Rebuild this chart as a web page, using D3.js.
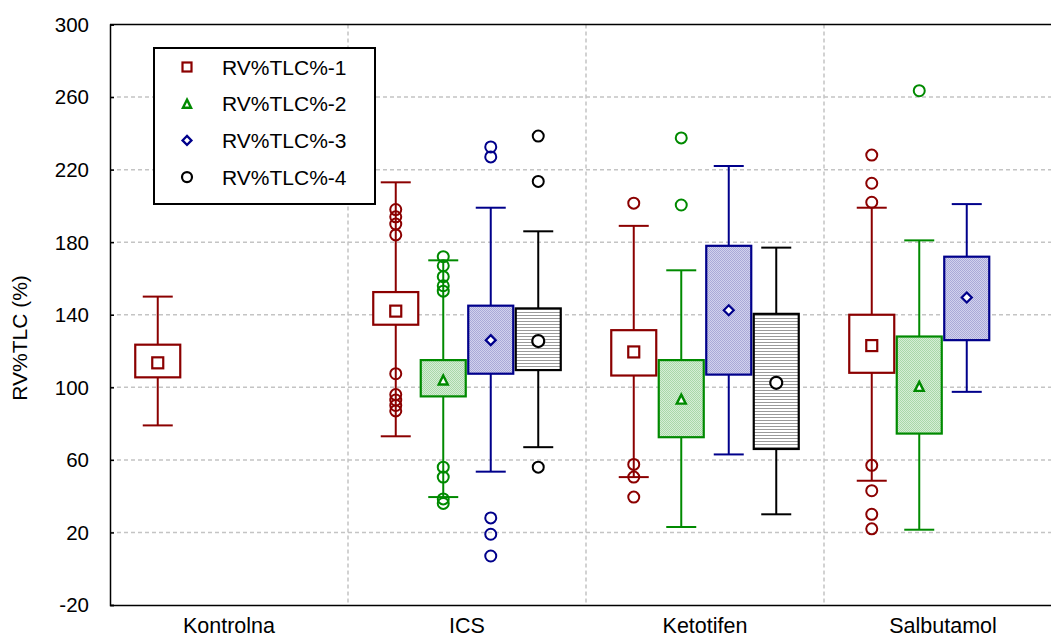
<!DOCTYPE html>
<html>
<head>
<meta charset="utf-8">
<script src="https://cdn.jsdelivr.net/npm/d3@7"></script>
<style>
  body { margin: 0; background: #fff; }
  text { font-family: "Liberation Sans", Arial, sans-serif; fill: #000; }
</style>
</head>
<body>
<div id="chart"></div>
<script>
// categories and series
var categories = ["Kontrolna", "ICS", "Ketotifen", "Salbutamol"];
var seriesNames = ["RV%TLC%-1", "RV%TLC%-2", "RV%TLC%-3", "RV%TLC%-4"];
var yTicks = [-20, 20, 60, 100, 140, 180, 220, 260, 300];

// box stats per series, one entry per category (null = no box)
var whiskerLow = [
  [79, 73, 50.5, 48.5],
  [null, 39.5, 23, 21.5],
  [null, 53.5, 63, 97.5],
  [null, 67, 30, null]
];
var lowerQ = [
  [105.5, 134.5, 106.5, 108],
  [null, 95, 72.5, 74.5],
  [null, 107.5, 107, 126],
  [null, 109.5, 66, null]
];
var middle = [
  [113.5, 142, 119.5, 123],
  [null, 104, 93.5, 100.5],
  [null, 126, 142.5, 149.5],
  [null, 125.5, 102.5, null]
];
var upperQ = [
  [123.5, 152.5, 131.5, 140],
  [null, 115, 115, 128],
  [null, 145, 178, 172],
  [null, 143.5, 140.5, null]
];
var whiskerHigh = [
  [150, 213, 189, 199],
  [null, 170, 164.5, 181],
  [null, 199, 222, 201],
  [null, 186, 177, null]
];
var outliers = [
  [[], [198, 194, 190, 184, 107.5, 96, 93, 90, 87], [201.5, 57.5, 50.5, 39.5], [228, 212.5, 202, 57, 43, 30, 22]],
  [[], [172, 167, 161, 156, 153, 56, 50.5, 38.5, 36], [237.5, 200.5], [263.5]],
  [[], [232.5, 227, 28, 19, 7], [], []],
  [[], [238.5, 213.5, 56], [], []]
];

var strokeColors = ["#8b0000", "#008a00", "#00008b", "#000000"];
var fills = ["#ffffff", "url(#patGreen)", "url(#patBlue)", "url(#patLines)"];

var width = 1051, height = 637,
    plotLeft = 110, plotTop = 24.5, plotBottom = 605, catWidth = 238;

var svg = d3.select('#chart').append('svg')
  .attr('width', width)
  .attr('height', height);
var defs = svg.append('defs');

// fill patterns
var pg = defs.append('pattern').attr('id', 'patGreen')
  .attr('width', 2).attr('height', 2).attr('patternUnits', 'userSpaceOnUse');
pg.append('rect').attr('width', 2).attr('height', 2).attr('fill', '#d6eed6');
pg.append('rect').attr('width', 1).attr('height', 1).attr('fill', '#a9d8a9');
pg.append('rect').attr('x', 1).attr('y', 1).attr('width', 1).attr('height', 1).attr('fill', '#a9d8a9');

var pb = defs.append('pattern').attr('id', 'patBlue')
  .attr('width', 2).attr('height', 2).attr('patternUnits', 'userSpaceOnUse');
pb.append('rect').attr('width', 2).attr('height', 2).attr('fill', '#d2d2ee');
pb.append('rect').attr('width', 1).attr('height', 1).attr('fill', '#aaaad8');
pb.append('rect').attr('x', 1).attr('y', 1).attr('width', 1).attr('height', 1).attr('fill', '#aaaad8');

var pl = defs.append('pattern').attr('id', 'patLines')
  .attr('width', 3).attr('height', 3).attr('patternUnits', 'userSpaceOnUse');
pl.append('rect').attr('width', 3).attr('height', 3).attr('fill', '#ffffff');
pl.append('rect').attr('width', 3).attr('height', 1).attr('fill', '#9a9a9a');

var x = d3.scaleBand()
  .domain(categories)
  .range([plotLeft, plotLeft + catWidth * categories.length]);
var inner = d3.scaleBand()
  .domain(seriesNames)
  .range([-95, 95]);
var y = d3.scaleLinear()
  .domain([-20, 300])
  .range([plotBottom, plotTop]);

var boxW = 45, capW = 30;

// grid
var grid = svg.append('g').attr('class', 'grid')
  .attr('stroke', '#c4c4c4')
  .attr('stroke-width', 1.5)
  .attr('stroke-dasharray', '4,3');
grid.selectAll('line.h')
  .data(yTicks.slice(1, -1))
  .enter().append('line')
    .attr('x1', plotLeft).attr('x2', width)
    .attr('y1', function (d) { return y(d); })
    .attr('y2', function (d) { return y(d); });
grid.selectAll('line.v')
  .data(categories.slice(1))
  .enter().append('line')
    .attr('x1', function (d) { return x(d); })
    .attr('x2', function (d) { return x(d); })
    .attr('y1', plotTop).attr('y2', plotBottom);

// axes
var yAxis = svg.append('g')
  .attr('transform', 'translate(' + plotLeft + ',0)')
  .call(d3.axisRight(y).tickValues(yTicks).tickSize(4).tickFormat(''));
yAxis.select('.domain').attr('stroke-width', 1.5);
yAxis.selectAll('.tick line').attr('stroke-width', 1.5);

svg.append('g').selectAll('text')
  .data(yTicks)
  .enter().append('text')
    .attr('x', 89)
    .attr('y', function (d) { return y(d); })
    .attr('dy', '0.36em')
    .attr('text-anchor', 'end')
    .style('font-size', '20.5px')
    .text(function (d) { return d; });

var xAxis = svg.append('g')
  .attr('transform', 'translate(0,' + plotBottom + ')')
  .call(d3.axisBottom(x).tickSize(0).tickPadding(13));
xAxis.select('.domain').attr('stroke-width', 1.5);
xAxis.selectAll('text')
  .style('font-size', '21.5px')
  .style('font-family', '"Liberation Sans", Arial, sans-serif');

svg.append('line')
  .attr('x1', plotLeft).attr('x2', width)
  .attr('y1', plotTop).attr('y2', plotTop)
  .attr('stroke', '#000').attr('stroke-width', 1.5);

svg.append('text')
  .attr('transform', 'translate(27,338) rotate(-90)')
  .attr('text-anchor', 'middle')
  .style('font-size', '21px')
  .text('RV%TLC (%)');

// marker shapes
function drawMarker(g, s, cx, cy, size) {
  var col = strokeColors[s];
  if (s === 0) {
    g.append('rect')
      .attr('x', cx - size / 2).attr('y', cy - size / 2)
      .attr('width', size).attr('height', size)
      .attr('fill', '#fff').attr('stroke', col).attr('stroke-width', 2.2);
  } else if (s === 1) {
    var h = size * 0.9;
    g.append('path')
      .attr('d', 'M' + cx + ',' + (cy - h / 2) + 'L' + (cx + h / 2) + ',' + (cy + h / 2) +
        'L' + (cx - h / 2) + ',' + (cy + h / 2) + 'Z')
      .attr('fill', '#fff').attr('stroke', col).attr('stroke-width', 2.4);
  } else if (s === 2) {
    var r = size * 0.5;
    g.append('path')
      .attr('d', 'M' + cx + ',' + (cy - r) + 'L' + (cx + r) + ',' + cy +
        'L' + cx + ',' + (cy + r) + 'L' + (cx - r) + ',' + cy + 'Z')
      .attr('fill', '#fff').attr('stroke', col).attr('stroke-width', 2.2);
  } else {
    g.append('circle')
      .attr('cx', cx).attr('cy', cy).attr('r', size * 0.5)
      .attr('fill', '#fff').attr('stroke', col).attr('stroke-width', 2.2);
  }
}

// boxes
var plot = svg.append('g').attr('class', 'boxes');
seriesNames.forEach(function (name, s) {
  var col = strokeColors[s];
  categories.forEach(function (cat, c) {
    if (middle[s][c] === null) return;
    var cx = x(cat) + x.bandwidth() / 2 + inner(name) + inner.bandwidth() / 2;
    var g = plot.append('g');

    g.append('line')
      .attr('x1', cx).attr('x2', cx)
      .attr('y1', y(whiskerLow[s][c])).attr('y2', y(whiskerHigh[s][c]))
      .attr('stroke', col).attr('stroke-width', 2);
    [whiskerLow[s][c], whiskerHigh[s][c]].forEach(function (v) {
      g.append('line')
        .attr('x1', cx - capW / 2).attr('x2', cx + capW / 2)
        .attr('y1', y(v)).attr('y2', y(v))
        .attr('stroke', col).attr('stroke-width', 2);
    });
    g.append('rect')
      .attr('x', cx - boxW / 2)
      .attr('y', y(upperQ[s][c]))
      .attr('width', boxW)
      .attr('height', y(lowerQ[s][c]) - y(upperQ[s][c]))
      .attr('fill', fills[s])
      .attr('stroke', col).attr('stroke-width', 2.2);

    drawMarker(g, s, cx, y(middle[s][c]), s === 0 ? 11 : (s === 3 ? 12 : 10));

    g.selectAll('circle.out')
      .data(outliers[s][c])
      .enter().append('circle')
        .attr('class', 'out')
        .attr('cx', cx)
        .attr('cy', function (d) { return y(d); })
        .attr('r', 5.5)
        .attr('fill', 'none')
        .attr('stroke', col)
        .attr('stroke-width', 2);
  });
});

// legend
var legend = svg.append('g').attr('class', 'legend');
legend.append('rect')
  .attr('x', 154).attr('y', 48)
  .attr('width', 221).attr('height', 156)
  .attr('fill', '#fff')
  .attr('stroke', '#000').attr('stroke-width', 2);
seriesNames.forEach(function (name, s) {
  var ly = 67 + s * 36.7;
  drawMarker(legend, s, 187, ly, s === 3 ? 10 : 9);
  legend.append('text')
    .attr('x', 222).attr('y', ly)
    .attr('dy', '0.36em')
    .style('font-size', '21px')
    .text(name);
});
</script>
</body>
</html>
